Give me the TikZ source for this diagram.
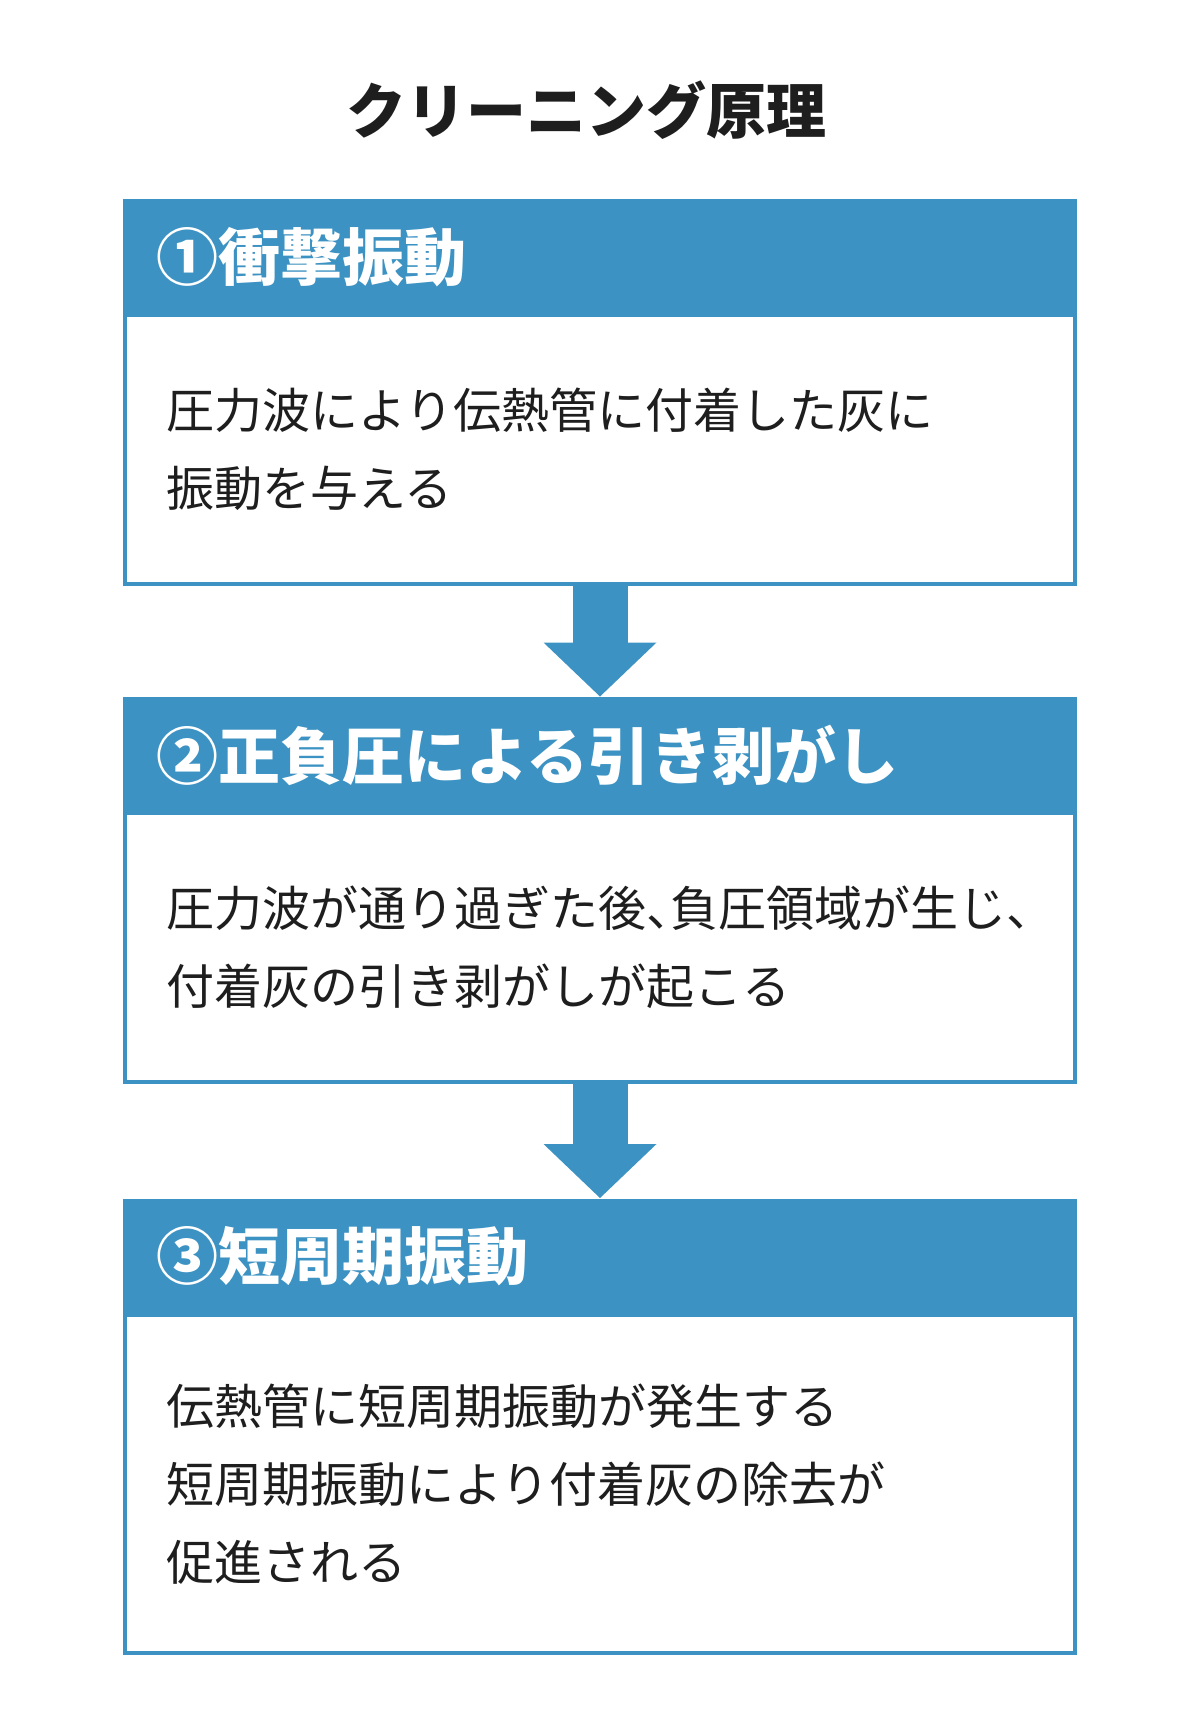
\documentclass[tikz,border=0pt]{standalone}
\usepackage{fontspec}
\setmainfont{Noto Sans CJK JP}
\usetikzlibrary{arrows.meta}
\definecolor{flowblue}{RGB}{60,146,194}
\definecolor{titleink}{RGB}{30,30,30}
\newcommand\hten{、\kern-.5em}

\tikzset{every picture/.style={line width=0.75pt}}
\tikzset{
  titletext/.style={text=titleink, inner sep=0pt, font=\fontsize{45}{50}\selectfont\bfseries},
  headbar/.style={fill=flowblue, inner sep=0pt, minimum width=715.5pt, minimum height=87pt,
    text width=666pt, align=left, text=white, font=\fontsize{46.5}{50}\selectfont\bfseries},
  bodybox/.style={draw=flowblue, line width=3pt, fill=white, inner sep=0pt, minimum width=712.5pt,
    text width=651pt, align=left, text=titleink, font=\fontsize{36}{58.5}\selectfont},
  flowarrow/.style={draw=flowblue, line width=41.25pt,
    -{Triangle[width=84.75pt,length=40.5pt,line width=0pt]}}
}

\begin{document}
\begin{tikzpicture}[x=0.75pt,y=0.75pt,yscale=-1,xscale=1]
\useasboundingbox (0,0) rectangle (1200,1734);

% Title
\draw (586,110) node [titletext] (title) {クリーニング原理};

% Box 1
\draw (600,449.5) node [bodybox, minimum height=201.75pt] (body1) {圧力波により伝熱管に付着した灰に\\振動を与える};
\draw (600,257) node [headbar] (head1) {①衝撃振動};

% Box 2
\draw (600,947.5) node [bodybox, minimum height=201.75pt] (body2) {圧力波が通り過ぎた後\hten 負圧領域が生じ\hten\\付着灰の引き剥がしが起こる};
\draw (600,755) node [headbar] (head2) {②正負圧による引き剥がし};

% Box 3
\draw (600,1484) node [bodybox, minimum height=253.5pt] (body3) {伝熱管に短周期振動が発生する\\短周期振動により付着灰の除去が\\促進される};
\draw (600,1256.5) node [headbar] (head3) {③短周期振動};

%Block Arrows
\draw [flowarrow] (body1.south) -- (head2.north);
\draw [flowarrow] (body2.south) -- (head3.north);

\end{tikzpicture}
\end{document}
